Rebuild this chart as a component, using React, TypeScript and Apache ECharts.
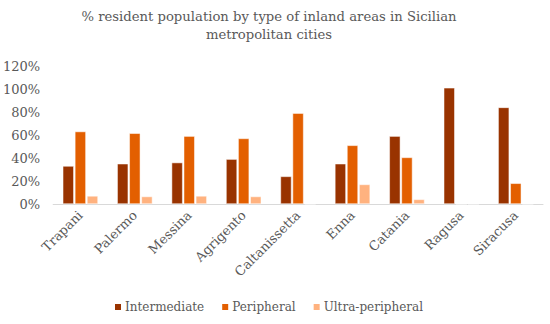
import React, { useEffect, useRef } from "react";
import * as echarts from "echarts";

const categories = ["Trapani", "Palermo", "Messina", "Agrigento", "Caltanissetta", "Enna", "Catania", "Ragusa", "Siracusa"];
const intermediate = [33, 35, 36, 39, 24, 35, 59, 101, 84];
const peripheral = [63, 61.5, 59, 57, 79, 51, 40.5, 0, 18];
const ultraPeripheral = [7, 6.5, 7, 6.5, 0, 17, 4, 0, 0];
const seriesNames = ["Intermediate", "Peripheral", "Ultra-peripheral"];
const colors = ["#993300", "#E35F00", "#FFB27F"];

const FONT = "DejaVu Serif";

export default function App() {
  const ref = useRef<HTMLDivElement>(null);
  useEffect(() => {
    if (!ref.current) return;
    const chart = echarts.init(ref.current, null, { renderer: "svg" });
    const data = [intermediate, peripheral, ultraPeripheral];
    chart.setOption({
      animation: false,
      backgroundColor: "#ffffff",
      textStyle: { fontFamily: FONT },
      title: {
        text: "% resident population by type of inland areas in Sicilian\nmetropolitan cities",
        left: 264,
        textAlign: "center",
        top: 2,
        textStyle: { fontFamily: FONT, fontSize: 13.2, fontWeight: "normal", color: "#595959", lineHeight: 18 },
      },
      legend: {
        bottom: 6,
        left: 108,
        itemWidth: 8,
        itemHeight: 8,
        itemGap: 16,
        icon: "rect",
        textStyle: { fontFamily: FONT, fontSize: 12, color: "#595959", padding: [0, 0, 0, -2] },
        data: seriesNames,
      },
      grid: { left: 50, right: 7, top: 66, bottom: 120, containLabel: false },
      xAxis: {
        type: "category",
        data: categories,
        axisLine: { lineStyle: { color: "#D9D9D9", width: 1 } },
        axisTick: { show: false },
        axisLabel: { rotate: 45, fontFamily: FONT, fontSize: 13, color: "#595959", margin: 9, interval: 0 },
      },
      yAxis: {
        type: "value",
        min: 0,
        max: 120,
        interval: 20,
        splitLine: { show: false },
        axisLine: { show: false },
        axisTick: { show: false },
        axisLabel: { formatter: "{value}%", fontFamily: FONT, fontSize: 13, color: "#595959", margin: 13 },
      },
      series: seriesNames.map((name, i) => ({
        name,
        type: "bar",
        data: data[i],
        barWidth: 11,
        barGap: "10%",
        itemStyle: { color: colors[i], borderColor: "#ffffff", borderWidth: 0.5 },
      })),
    });
    return () => chart.dispose();
  }, []);
  return <div ref={ref} style={{ width: 550, height: 324, position: "absolute", left: 0, top: 0 }} />;
}
